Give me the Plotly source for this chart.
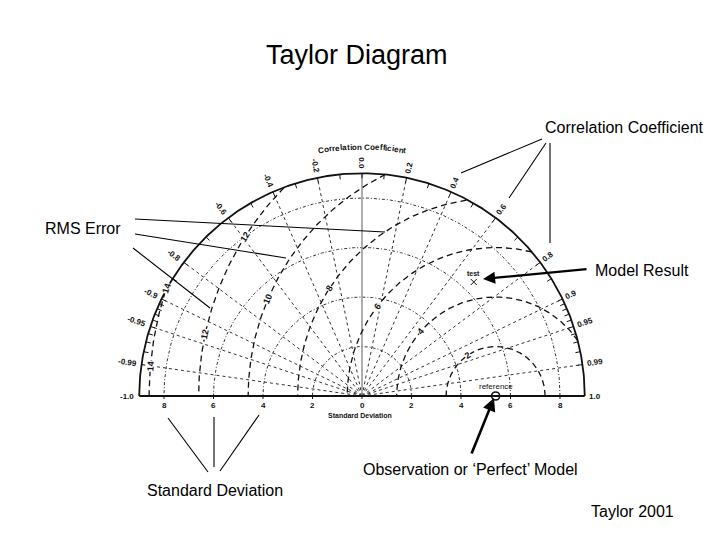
import numpy as np
import plotly.graph_objects as go

# ---------------- data ----------------
TITLE = "Taylor Diagram"
STD_MAX = 9.0
STD_CIRCLES = [2, 4, 6, 8]
STD_TICKS = [-8, -6, -4, -2, 0, 2, 4, 6, 8]
STD_TICK_LABELS = ["8", "6", "4", "2", "0", "2", "4", "6", "8"]
CORR_LINES = [-0.99, -0.95, -0.9, -0.8, -0.6, -0.4, -0.2, 0.2, 0.4, 0.6, 0.8, 0.9, 0.95, 0.99]
CORR_LABELS = [-1.0, -0.99, -0.95, -0.9, -0.8, -0.6, -0.4, -0.2, 0.0, 0.2, 0.4, 0.6, 0.8, 0.9, 0.95, 0.99, 1.0]
CORR_LABEL_TEXT = ["-1.0", "-0.99", "-0.95", "-0.9", "-0.8", "-0.6", "-0.4", "-0.2", "0.0",
                   "0.2", "0.4", "0.6", "0.8", "0.9", "0.95", "0.99", "1.0"]
CORR_MINOR = [-0.98, -0.97, -0.96, -0.94, -0.93, -0.92, -0.91, -0.85, -0.7, -0.5, -0.3, -0.1,
              0.1, 0.3, 0.5, 0.7, 0.85, 0.91, 0.92, 0.93, 0.94, 0.96, 0.97, 0.98]
RMS_LEVELS = [2, 4, 6, 8, 10, 12, 14]
RMS_LABEL_ANGLE = [124, 139, 143, 147, 157, 168, 175]
RMS_EXTRA_LEVELS = [12, 14]
RMS_EXTRA_ANGLE = [147.6, 161.8]
REF_STD = 5.4
REF_NAME = "reference"
TEST_STD = 6.45
TEST_CORR = 0.70
TEST_NAME = "test"

# ---------------- geometry helpers (screen-pixel layout) ----------------
W, H = 720, 540
BODY = 8                      # default page margin around the plot div
FW, FH = W - 2 * BODY, H - 2 * BODY
S = 24.75                     # pixels per std unit
OX, OY = 362, 396             # screen pixel position of the origin


def X(px):
    return (px - OX) / S


def Y(py):
    return (OY - py) / S


fig = go.Figure()
BLACK = "#111111"


def add_line(xs, ys, color=BLACK, width=1.0, dash="solid"):
    fig.add_trace(go.Scatter(x=xs, y=ys, mode="lines", hoverinfo="skip", showlegend=False,
                             line=dict(color=color, width=width, dash=dash)))


th = np.linspace(0, np.pi, 361)

# std-dev circles
xs, ys = [], []
for s in STD_CIRCLES:
    xs += list(s * np.cos(th)) + [None]
    ys += list(s * np.sin(th)) + [None]
add_line(xs, ys, color="#333333", width=1.0, dash="3px,2px,1px,2px")

# correlation radial lines
xs, ys = [], []
for c in CORR_LINES:
    a = np.arccos(c)
    xs += [0, STD_MAX * np.cos(a), None]
    ys += [0, STD_MAX * np.sin(a), None]
add_line(xs, ys, color="#333333", width=1.0, dash="dot")

# zero-correlation line
add_line([0, 0], [0, STD_MAX], color="#9a9a9a", width=1.6)

# RMS circles (centered at reference), clipped to outer arc
xs, ys = [], []
for r in RMS_LEVELS:
    cx = REF_STD + r * np.cos(th)
    cy = r * np.sin(th)
    inside = np.hypot(cx, cy) <= STD_MAX
    for x_, y_, ok in zip(cx, cy, inside):
        xs.append(x_ if ok else None)
        ys.append(y_ if ok else None)
    xs.append(None)
    ys.append(None)
add_line(xs, ys, color=BLACK, width=1.3, dash="6px,4px")

# outer arc and base axis
add_line(list(STD_MAX * np.cos(th)), list(STD_MAX * np.sin(th)), color=BLACK, width=1.8)
add_line([-STD_MAX, STD_MAX], [0, 0], color=BLACK, width=1.8)

# arc ticks
xs, ys = [], []
for c in CORR_MINOR + CORR_LINES + [0.0]:
    a = np.arccos(c)
    xs += [STD_MAX * np.cos(a), (STD_MAX - 0.2) * np.cos(a), None]
    ys += [STD_MAX * np.sin(a), (STD_MAX - 0.2) * np.sin(a), None]
add_line(xs, ys, color=BLACK, width=1.0)

# base axis ticks
xs, ys = [], []
for t in STD_TICKS:
    xs += [t, t, None]
    ys += [0, -0.12, None]
add_line(xs, ys, color=BLACK, width=1.0)

# reference point and test point
fig.add_trace(go.Scatter(x=[REF_STD], y=[0], mode="markers", hoverinfo="skip", showlegend=False,
                         marker=dict(symbol="circle-open", size=8, color=BLACK, line=dict(width=1.6))))
ta = np.arccos(TEST_CORR)
tx, ty = TEST_STD * np.cos(ta), TEST_STD * np.sin(ta)
fig.add_trace(go.Scatter(x=[tx], y=[ty], mode="markers", hoverinfo="skip", showlegend=False,
                         marker=dict(symbol="x-thin", size=6, color=BLACK, line=dict(width=1, color=BLACK))))

ann = []
SMALL = dict(family="Liberation Sans, Arial, sans-serif", size=8, color=BLACK)
BIG = dict(family="Liberation Sans, Arial, sans-serif", size=16, color="#000000")


def txt(x, y, text, font=SMALL, angle=0, xanchor="center", yanchor="middle", bg=None):
    d = dict(x=x, y=y, xref="x", yref="y", text=text, showarrow=False, font=font,
             textangle=angle, xanchor=xanchor, yanchor=yanchor)
    if bg:
        d["bgcolor"] = bg
        d["borderpad"] = 0
    ann.append(d)


# correlation labels
for c, lab in zip(CORR_LABELS, CORR_LABEL_TEXT):
    a = np.arccos(c)
    deg = np.degrees(a)
    half = 2.3 * len(lab)
    rr = (STD_MAX * S + 3 + half) / S
    if abs(c) == 1.0:
        ang = 0
    elif c > 0:
        ang = -deg
    elif c < 0:
        ang = 180 - deg
    else:
        ang = 90
    txt(rr * np.cos(a), rr * np.sin(a), "<b>" + lab + "</b>", angle=ang)

# curved "Correlation Coefficient"
word = "Correlation Coefficient"
wid = {"C": .722, "o": .556, "r": .333, "e": .556, "l": .222, "a": .556, "t": .278, "i": .222,
       "n": .556, " ": .278, "f": .278, "c": .5}
fs = 8
adv = [wid[ch] * fs * 1.12 for ch in word]
total = sum(adv)
r_px = 249.0
pos = 0.0
for ch, w_ in zip(word, adv):
    center = pos + w_ / 2
    pos += w_
    if ch == " ":
        continue
    ang = np.pi / 2 + (total / 2 - center) / r_px
    txt(r_px / S * np.cos(ang), r_px / S * np.sin(ang), "<b>" + ch + "</b>",
        font=dict(SMALL, size=fs), angle=90 - np.degrees(ang))

# RMS labels
for r, a in list(zip(RMS_LEVELS, RMS_LABEL_ANGLE)) + list(zip(RMS_EXTRA_LEVELS, RMS_EXTRA_ANGLE)):
    ar = np.radians(a)
    txt(REF_STD + r * np.cos(ar), r * np.sin(ar), "<b>" + str(r) + "</b>",
        font=dict(SMALL, size=9), angle=-(a - 90), bg="white")

# std axis tick labels
for t, lab in zip(STD_TICKS, STD_TICK_LABELS):
    txt(t, Y(405), "<b>" + lab + "</b>", font=dict(SMALL, size=8))
txt(X(360), Y(415), "<b>Standard Deviation</b>", font=dict(SMALL, size=7))

# point labels
txt(REF_STD, Y(386), REF_NAME, font=dict(SMALL, size=8))
txt(tx, ty + 9 / S, "<b>" + TEST_NAME + "</b>", font=dict(SMALL, size=7))

# big annotation texts
txt(X(357), Y(55), TITLE, font=dict(BIG, size=27))
txt(X(624), Y(127), "Correlation Coefficient", font=BIG)
txt(X(83), Y(228), "RMS Error", font=BIG)
txt(X(593), Y(270), "Model Result", font=BIG, xanchor="left")
txt(X(215), Y(490), "Standard Deviation", font=BIG)
txt(X(470), Y(469), "Observation or \u2018Perfect\u2019 Model", font=BIG)
txt(X(632), Y(511), "Taylor 2001", font=BIG)

# arrows
ann.append(dict(x=X(483), y=Y(279), xref="x", yref="y", ax=105, ay=-10, axref="pixel", ayref="pixel",
                text="", showarrow=True, arrowhead=2, arrowsize=1.1, arrowwidth=2.2, arrowcolor="#000000"))
ann.append(dict(x=X(494), y=Y(398), xref="x", yref="y", ax=-23, ay=57, axref="pixel", ayref="pixel",
                text="", showarrow=True, arrowhead=2, arrowsize=1.0, arrowwidth=2.6, arrowcolor="#000000"))

# pointer lines
shapes = []
PTR = [
    ((135, 219), (385, 232)), ((135, 234), (286, 258)), ((133, 248), (210, 308)),
    ((542, 139), (461, 173)), ((546, 143), (509, 198)), ((550, 143), (550, 243)),
    ((168, 418), (208, 472)), ((214, 417), (214, 467)), ((259, 415), (220, 471)),
]
for (x0, y0), (x1, y1) in PTR:
    shapes.append(dict(type="line", xref="x", yref="y", x0=X(x0), y0=Y(y0), x1=X(x1), y1=Y(y1),
                       line=dict(color="#000000", width=1.1)))

fig.update_layout(
    width=FW, height=FH, autosize=False,
    margin=dict(l=0, r=0, t=0, b=0, pad=0),
    paper_bgcolor="white", plot_bgcolor="white",
    xaxis=dict(visible=False, range=[X(BODY), X(BODY + FW)], fixedrange=True),
    yaxis=dict(visible=False, range=[Y(BODY + FH), Y(BODY)], fixedrange=True),
    annotations=ann, shapes=shapes, showlegend=False,
)
fig.write_html("out.html")
